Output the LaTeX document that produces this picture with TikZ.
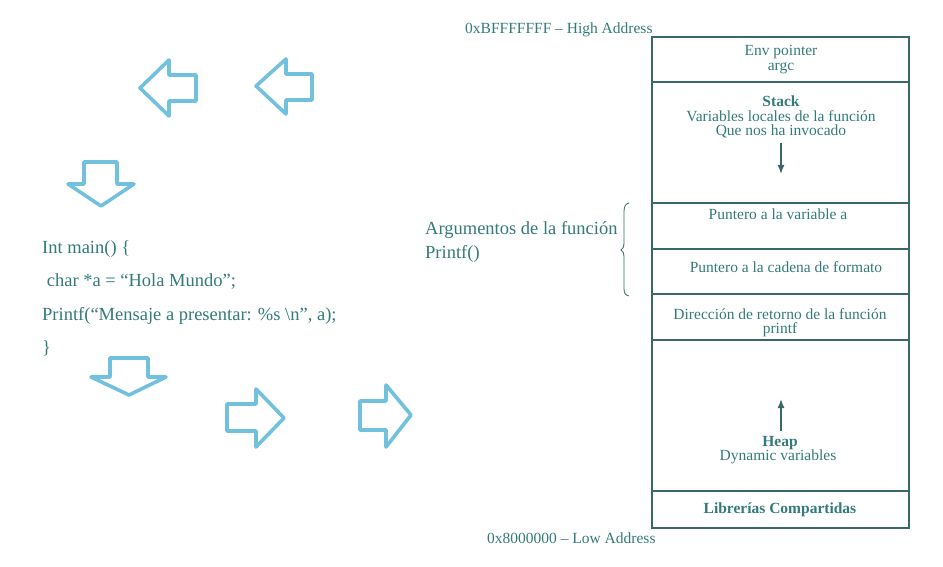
\documentclass[tikz,border=0pt]{standalone}
\usepackage{fontspec}
\setmainfont{Liberation Serif}
\usetikzlibrary{arrows.meta}
\definecolor{txt}{RGB}{52,122,122}
\definecolor{ln}{RGB}{58,104,104}
\definecolor{blk}{RGB}{112,192,222}
\tikzset{
  big/.style={font=\fontsize{18.5}{20}\selectfont, text=txt, inner sep=0pt, anchor=base west},
  small/.style={font=\fontsize{15.5}{14.5}\selectfont, text=txt, inner sep=0pt, anchor=base},
  smallb/.style={small, font=\fontsize{15.5}{14.5}\selectfont\bfseries},
  addr/.style={font=\fontsize{15.5}{14.5}\selectfont, text=txt, inner sep=0pt, anchor=base west},
  section/.style={draw=ln, line width=1.2pt},
  blockarrow/.style={draw=blk, line width=3.6pt, line join=round},
  growarrow/.style={draw=ln, line width=1.4pt, -{Latex[length=9pt,width=7pt]}},
}
\begin{document}
\begin{tikzpicture}[x=1pt,y=-1pt]
\useasboundingbox (0,0) rectangle (943,567);

% block arrows
\draw[blockarrow] (140,88) -- (169,60) -- (169,75) -- (196,75) -- (196,101) -- (169,101) -- (169,116) -- cycle;
\draw[blockarrow] (256,86) -- (286,59) -- (286,74) -- (312,74) -- (312,100) -- (286,100) -- (286,114) -- cycle;
\draw[blockarrow] (84,162) -- (117,162) -- (117,184) -- (134,184) -- (101,206) -- (68,184) -- (84,184) -- cycle;
\draw[blockarrow] (110,358) -- (148,358) -- (148,377) -- (166,377) -- (129,395) -- (91,377) -- (110,377) -- cycle;
\draw[blockarrow] (227,404) -- (256,404) -- (256,389) -- (284,418) -- (256,447) -- (256,431) -- (227,431) -- cycle;
\draw[blockarrow] (360,401) -- (386,401) -- (386,385) -- (411,415) -- (386,447) -- (386,430) -- (360,430) -- cycle;

% code
\node[big] (l1) at (42,253) {Int main() \{};
\node[big] (l2) at (42,286.5) {\ char *a = “Hola Mundo”;};
\node[big] (l3) at (42,320) {Printf(“Mensaje a presentar: \%s \textbackslash n”, a);};
\node[big] (l4) at (42,353.5) {\}};

% argument label
\node[big] (arg1) at (425,234) {Argumentos de la función};
\node[big] (arg2) at (425,258) {Printf()};

% brace
\draw[ln, line width=0.8pt] (629,203) .. controls (625,204) and (624,207) .. (624,212) -- (624,242) .. controls (624,247) and (623,249) .. (621,250) .. controls (623,251) and (624,253) .. (624,258) -- (624,288) .. controls (624,293) and (625,295) .. (629,296);

% memory sections
\draw[section] (652,37) rectangle (909,82);
\draw[section] (652,82) rectangle (909,203);
\draw[section] (652,203) rectangle (909,249);
\draw[section] (652,249) rectangle (909,294);
\draw[section] (652,294) rectangle (909,340);
\draw[section] (652,340) rectangle (909,491);
\draw[section] (652,491) rectangle (909,528);

\node[addr] (hi) at (465,34) {0xBFFFFFFF – High Address};
\node[addr] (lo) at (487,543) {0x8000000 – Low Address};

\node[small] (env1) at (781,56) {Env pointer};
\node[small] (env2) at (781,71) {argc};
\node[smallb] (st1) at (781,106.5) {Stack};
\node[small] (st2) at (781,121.5) {Variables locales de la función};
\node[small] (st3) at (781,135.5) {Que nos ha invocado};
\coordinate (sa) at (781,143);
\coordinate (sb) at (781,174);
\draw[growarrow] (sa) -- (sb);
\node[small] (pa) at (778,219) {Puntero a la variable a};
\node[small] (pc) at (786,272) {Puntero a la cadena de formato};
\node[small] (dr1) at (780,319) {Dirección de retorno de la función};
\node[small] (dr2) at (780,333) {printf};
\coordinate (ha) at (781,431);
\coordinate (hb) at (781,399);
\draw[growarrow] (ha) -- (hb);
\node[smallb] (hp1) at (780,446) {Heap};
\node[small] (hp2) at (778,460.5) {Dynamic variables};
\node[smallb] (lib) at (780,513) {Librerías Compartidas};
\end{tikzpicture}
\end{document}
